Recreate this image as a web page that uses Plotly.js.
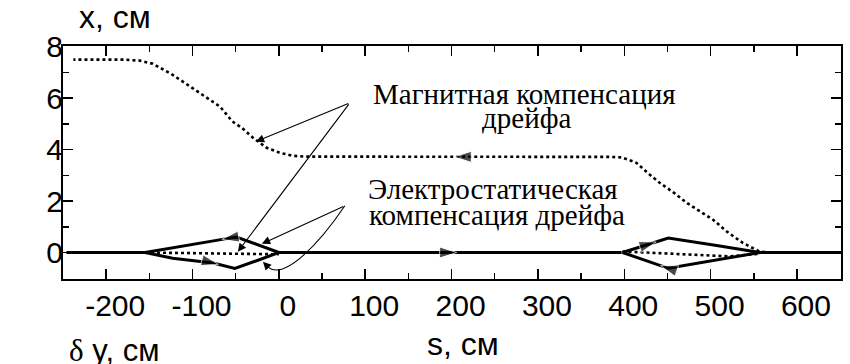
<!DOCTYPE html>
<html><head><meta charset="utf-8">
<script src="https://cdn.plot.ly/plotly-3.0.1.min.js"></script>
<style>html,body{margin:0;padding:0;background:#fff}#chart{width:850px;height:364px}</style>
</head><body><div id="chart"></div><script>
// ---- data (s in cm, x in cm) ----
// Magnetic drift compensation (dotted), listed in direction of travel (right -> left)
const magS = [570, 557, 537, 519, 503, 488, 472, 456, 441, 427, 414, 397, 380, 300, 203, 100, 60, 30, 16, 1, -14, -30, -43, -54, -68, -92, -123, -146, -161, -180, -238];
const magX = [0.0, 0.03, 0.38, 0.81, 1.27, 1.58, 1.94, 2.36, 2.71, 3.10, 3.49, 3.70, 3.72, 3.72, 3.72, 3.72, 3.72, 3.73, 3.76, 3.88, 4.07, 4.46, 4.85, 5.10, 5.67, 6.21, 6.91, 7.34, 7.46, 7.50, 7.50];
const magArrowAt = 203;
// Axis line (solid) outside the electrostatic loops
const axisS = [-246, -155, null, 0, 206, 397, null, 557, 651];
const axisX = [0, 0, null, 0, 0, 0, null, 0, 0];
const axisArrowAt = 206;
// Electrostatic loops (solid), in direction of travel
const lUpS = [0, -25, -49, -57, -66, -76, -123, -155];
const lUpX = [0, 0.31, 0.60, 0.56, 0.51, 0.455, 0.17, 0];
const lUpArrowAt = -66;
const lLoS = [-155, -123, -76, -70, -51, -25, 0];
const lLoX = [0, -0.22, -0.41, -0.46, -0.62, -0.31, 0];
const lLoArrowAt = -70;
const rUpS = [398, 426, 437, 451, 507, 557];
const rUpX = [0, 0.30, 0.41, 0.56, 0.27, 0];
const rUpArrowAt = 437;
const rLoS = [557, 451, 442, 398];
const rLoX = [0, -0.61, -0.51, 0];
const rLoArrowAt = 442;
// Dotted reference inside loops
const lDotS = [-155, -50, 0];
const lDotX = [0, -0.03, -0.07];
const rDotS = [398, 522, 557];
const rDotX = [0.04, -0.15, -0.05];
// ticks
const xTickVals = [-200, -100, 0, 100, 200, 300, 400, 500, 600];
const xTickText = ['-200', '-100', '0', '100', '200', '300', '400', '500', '600'];
const yTickVals = [0, 2, 4, 6, 8];
const yTickText = ['0', '2', '4', '6', '8'];

const SANS = 'Liberation Sans';
const SERIF = 'Liberation Serif';

function sizes(arr, at) { return arr.map(v => v === at ? 18 : 0); }
function solid(s, x, at) {
  return {x: s, y: x, type: 'scatter', mode: at === undefined ? 'lines' : 'lines+markers',
    line: {color: '#000', width: 3}, hoverinfo: 'skip', showlegend: false,
    marker: {symbol: 'arrow', angleref: 'previous', color: '#000', size: at === undefined ? 0 : sizes(s, at)}};
}
function dotted(s, x, at) {
  return {x: s, y: x, type: 'scatter', mode: at === undefined ? 'lines' : 'lines+markers',
    line: {color: '#000', width: 2.6, dash: '3px,3px'}, hoverinfo: 'skip', showlegend: false,
    marker: {symbol: 'arrow', angleref: 'previous', color: '#000', size: at === undefined ? 0 : sizes(s, at)}};
}

const traces = [
  dotted(lDotS, lDotX),
  dotted(rDotS, rDotX),
  dotted(magS, magX, magArrowAt),
  solid(axisS, axisX, axisArrowAt),
  solid(lUpS, lUpX, lUpArrowAt),
  solid(lLoS, lLoX, lLoArrowAt),
  solid(rUpS, rUpX, rUpArrowAt),
  solid(rLoS, rLoX, rLoArrowAt)
];

function ptr(hx, hy, tx, ty) {
  return {x: hx, y: hy, ax: tx, ay: ty, xref: 'x', yref: 'y', axref: 'x', ayref: 'y',
    text: '', showarrow: true, arrowhead: 2, arrowsize: 1.5, arrowwidth: 1.1, arrowcolor: '#000', standoff: 0};
}
function txt(t, x, y, size, font, anchor) {
  return {text: t, x: x, y: y, xref: 'paper', yref: 'paper', showarrow: false,
    xanchor: anchor || 'center', yanchor: 'middle', font: {family: font, size: size, color: '#000'}};
}

const layout = {
  width: 850, height: 364,
  margin: {l: 63, r: 9, t: 46, b: 85},
  paper_bgcolor: '#fff', plot_bgcolor: '#fff',
  font: {family: SANS, color: '#000'},
  xaxis: {range: [-250, 651], showgrid: false, zeroline: false,
    showline: true, linecolor: '#000', linewidth: 2, mirror: 'allticks',
    tickmode: 'array', tickvals: xTickVals, ticktext: xTickText,
    ticks: 'inside', ticklen: 10, tickwidth: 1.5, tickcolor: '#000',
    minor: {dtick: 50, tick0: 0, ticks: 'inside', ticklen: 6, tickwidth: 1.5, tickcolor: '#000'},
    tickfont: {family: SANS, size: 30, color: '#000'}, ticklabelshift: 9, ticklabelstandoff: -1},
  yaxis: {range: [-1.03, 8.03], showgrid: false, zeroline: false,
    showline: true, linecolor: '#000', linewidth: 2, mirror: 'allticks',
    tickmode: 'array', tickvals: yTickVals, ticktext: yTickText,
    ticks: 'inside', ticklen: 10, tickwidth: 1.5, tickcolor: '#000',
    minor: {dtick: 1, tick0: 0, ticks: 'inside', ticklen: 6, tickwidth: 1.5, tickcolor: '#000'},
    tickfont: {family: SANS, size: 30, color: '#000'}, ticklabelstandoff: -8},
  shapes: [
    {type: 'path', xref: 'x', yref: 'y', path: 'M 76.4 1.82 C 47.5 0.38, 4.6 -1.18, -13.9 -0.52',
     line: {color: '#000', width: 1.1}}
  ],
  annotations: [
    ptr(-26.6, 4.31, 82.2, 5.82),
    ptr(-47.5, 0.03, 82.2, 5.82),
    ptr(-19.7, 0.34, 76.4, 1.82),
    ptr(-18.5, -0.36, -13.9, -0.52),
    txt('Магнитная компенсация', 0.5938, 0.795, 29, SERIF),
    txt('дрейфа', 0.5964, 0.69, 29, SERIF),
    txt('Электростатическая', 0.5527, 0.388, 29, SERIF),
    txt('компенсация дрейфа', 0.5578, 0.276, 29, SERIF),
    txt('x, см', 0.018, 1.1245, 32, SANS, 'left'),
    txt('s, см', 0.514, -0.279, 32, SANS),
    txt('<span style="font-family:Liberation Serif">δ</span> y, см', 0.005, -0.309, 31, SANS, 'left')
  ]
};
Plotly.newPlot('chart', traces, layout, {staticPlot: true, displayModeBar: false});
</script></body></html>
